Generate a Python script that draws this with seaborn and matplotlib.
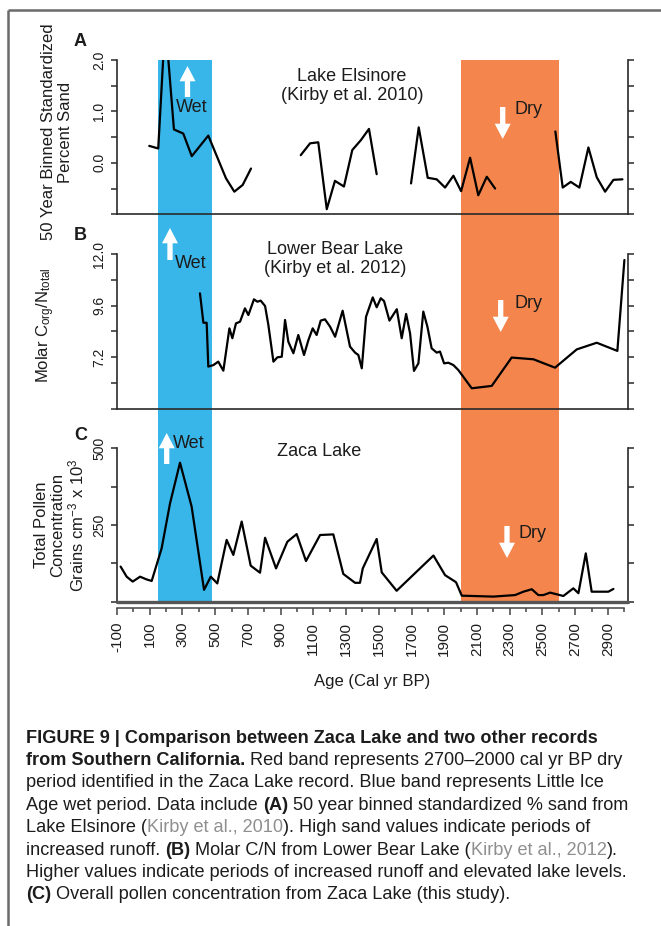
import matplotlib
matplotlib.use("Agg")
import matplotlib.pyplot as plt
from matplotlib.lines import Line2D
from matplotlib.patches import FancyArrowPatch
from matplotlib.ticker import FormatStrFormatter
import pandas as pd
import seaborn as sns

# ---------------------------------------------------------------- data
# (A) Lake Elsinore: 50 year binned standardized percent sand.
#     "run" numbers the continuous stretches of the record (gaps between).
elsinore_age = [97, 152, 195, 248, 305, 357, 458, 566, 617, 668, 719,
                1023, 1080, 1130, 1182, 1232, 1287, 1338, 1390, 1440, 1487,
                1697, 1744, 1799, 1854, 1905, 1956, 2003, 2058, 2108, 2160, 2211,
                2579, 2624, 2673, 2726, 2781, 2832, 2883, 2934, 2989]
elsinore_sand = [0.33, 0.28, 2.75, 0.65, 0.57, 0.13, 0.53, -0.30, -0.56, -0.43, -0.11,
                 0.15, 0.38, 0.40, -0.90, -0.35, -0.46, 0.25, 0.44, 0.66, -0.22,
                 -0.40, 0.69, -0.29, -0.32, -0.48, -0.25, -0.55, 0.10, -0.63, -0.27, -0.50,
                 0.61, -0.48, -0.37, -0.48, 0.30, -0.28, -0.56, -0.33, -0.32]
elsinore_run = [1, 1, 1, 1, 1, 1, 1, 1, 1, 1, 1,
                2, 2, 2, 2, 2, 2, 2, 2, 2, 2,
                3, 3, 3, 3, 3, 3, 3, 3, 3, 3, 3,
                4, 4, 4, 4, 4, 4, 4, 4, 4]

# (B) Lower Bear Lake: molar C/N
bear_age = [407, 428, 448, 458, 489, 519, 550, 587, 605, 627,
            652, 682, 703, 737, 758, 778, 805, 825, 856, 880,
            907, 927, 947, 978, 1008, 1043, 1070, 1096, 1120, 1145,
            1171, 1202, 1233, 1279, 1324, 1355, 1375, 1396, 1422, 1463,
            1487, 1512, 1532, 1565, 1610, 1640, 1667, 1691, 1715, 1742,
            1772, 1797, 1823, 1854, 1874, 1899, 1925, 1956, 1986, 2068,
            2190, 2312, 2445, 2577, 2710, 2832, 2958, 3001]
bear_cn = [10.17, 8.80, 8.80, 6.76, 6.83, 6.99, 6.57, 8.54, 8.08, 8.77,
           8.85, 9.47, 9.16, 9.89, 9.78, 9.83, 9.58, 8.70, 6.99, 7.19,
           7.22, 8.93, 7.92, 7.38, 8.23, 7.30, 8.00, 8.54, 8.23, 8.90,
           8.96, 8.62, 8.15, 9.36, 7.69, 7.41, 7.30, 6.68, 9.08, 9.98,
           9.52, 9.94, 9.81, 8.90, 9.43, 8.08, 9.21, 8.31, 6.56, 6.91,
           9.32, 8.62, 7.61, 7.41, 7.46, 6.91, 6.94, 6.83, 6.60, 5.75,
           5.86, 7.18, 7.10, 6.71, 7.56, 7.87, 7.49, 11.72]

# (C) Zaca Lake: total pollen concentration (grains cm^-3 x 10^3)
zaca_age = [-78, -41, -4, 41, 81, 112, 173, 224, 285, 356,
            432, 473, 513, 570, 611, 662, 717, 774, 805, 872,
            941, 998, 1055, 1141, 1222, 1283, 1355, 1385, 1402, 1487,
            1518, 1609, 1834, 1905, 1972, 2007, 2200, 2333, 2384, 2435,
            2475, 2506, 2547, 2628, 2689, 2720, 2765, 2801, 2903, 2934]
zaca_pollen = [114, 81, 65, 81, 72, 67, 174, 320, 453, 310,
               38, 81, 59, 201, 152, 261, 117, 94, 208, 108,
               195, 220, 132, 217, 219, 90, 61, 61, 108, 204,
               95, 35, 150, 86, 63, 19, 16, 21, 32, 40,
               21, 21, 29, 18, 43, 27, 157, 32, 32, 41]

# climate periods (cal yr BP)
wet_band = (150, 480)
dry_band = (2000, 2600)

# axis ticks
age_ticks = [-100, 100, 300, 500, 700, 900, 1100, 1300, 1500, 1700,
             1900, 2100, 2300, 2500, 2700, 2900]
age_minor = [0, 200, 400, 600, 800, 1000, 1200, 1400, 1600, 1800,
             2000, 2200, 2400, 2600, 2800, 3000]
sand_ticks, sand_minor = [0.0, 1.0, 2.0], [-1.0, -0.5, 0.5, 1.5]
cn_ticks, cn_minor = [7.2, 9.6, 12.0], [4.8, 6.0, 8.4, 10.8]
pollen_ticks, pollen_minor = [250, 500], [0, 125, 375]

# ---------------------------------------------------------------- style
sns.set_style("white")
plt.rcParams["font.family"] = ["Liberation Sans", "DejaVu Sans"]
plt.rcParams["mathtext.fontset"] = "custom"
plt.rcParams["mathtext.rm"] = "Liberation Sans"
plt.rcParams["mathtext.default"] = "regular"
plt.rcParams["axes.unicode_minus"] = False

W, H = 661, 926
INK = "#1c1c1c"
AXC = "#2a2a2a"
BLUE = "#38b6ea"
ORANGE = "#f4864d"
X_LIM = (-100, 3023)

fig = plt.figure(figsize=(W / 100, H / 100), dpi=100)


def box(left, top, right, bottom):
    """Axes rectangle from pixel edges measured from the top-left corner."""
    return [left / W, 1 - bottom / H, (right - left) / W, (bottom - top) / H]


def fx(x):
    return x / W


def fy(y):
    return 1 - y / H


# shared background with the climate bands behind all three records
ax_bg = fig.add_axes(box(117, 60, 628, 602), zorder=0)
ax_bg.set_xlim(*X_LIM)
ax_bg.axvspan(*wet_band, color=BLUE, lw=0)
ax_bg.axvspan(*dry_band, color=ORANGE, lw=0)
ax_bg.axis("off")

axA = fig.add_axes(box(117, 60, 628, 214.3), zorder=2)
axB = fig.add_axes(box(117, 254, 628, 408.7), zorder=2)
axC = fig.add_axes(box(117, 448.3, 628, 601.5), zorder=2)

dfA = pd.DataFrame({"age": elsinore_age, "sand": elsinore_sand, "run": elsinore_run})
dfB = pd.DataFrame({"age": bear_age, "cn": bear_cn})
dfC = pd.DataFrame({"age": zaca_age, "pollen": zaca_pollen})

line_kw = dict(color="black", lw=1.6, legend=False)
sns.lineplot(data=dfA, x="age", y="sand", units="run", estimator=None, ax=axA, **line_kw)
sns.lineplot(data=dfB, x="age", y="cn", estimator=None, ax=axB, **line_kw)
sns.lineplot(data=dfC, x="age", y="pollen", estimator=None, ax=axC, **line_kw)

panels = [
    (axA, (-1.0, 2.0), sand_ticks, sand_minor, "%.1f"),
    (axB, (4.8, 12.0), cn_ticks, cn_minor, "%.1f"),
    (axC, (0, 500), pollen_ticks, pollen_minor, "%d"),
]
for ax, ylim, major, minor, fmt in panels:
    ax.patch.set_alpha(0)
    ax.set_xlim(*X_LIM)
    ax.set_ylim(*ylim)
    ax.set_yticks(major)
    ax.set_yticks(minor, minor=True)
    ax.yaxis.set_major_formatter(FormatStrFormatter(fmt))
    ax.spines["top"].set_visible(False)
    for side in ("left", "right", "bottom"):
        ax.spines[side].set_color(AXC)
        ax.spines[side].set_linewidth(1.2)
    ax.tick_params(axis="y", which="both", direction="out", left=True, right=True,
                   labelright=False, length=4.2, width=1.1, color=AXC,
                   labelsize=10, pad=3.5, labelcolor=INK)
    for t in ax.get_yticklabels():
        t.set_rotation(90)
        t.set_va("center")
        t.set_ha("right")
    ax.set_xlabel("")

for ax in (axA, axB):
    ax.tick_params(axis="x", which="both", bottom=False, labelbottom=False)
    ax.set_xticks([])

# age axis under the pollen record
axC.axhline(0, color="#555555", lw=2.4, clip_on=False, zorder=3)
axC.spines["bottom"].set_position(("outward", 5))
axC.spines["bottom"].set_bounds(-100, 3000)
axC.spines["bottom"].set_color("#444444")
axC.spines["bottom"].set_linewidth(1.1)
axC.set_xticks(age_ticks)
axC.set_xticks(age_minor, minor=True)
axC.tick_params(axis="x", which="major", direction="out", bottom=True, length=5.2,
                width=1.1, color="#444444", labelsize=11, labelrotation=90, pad=4.5,
                labelcolor=INK)
axC.tick_params(axis="x", which="minor", direction="out", bottom=True, length=2.8,
                width=1.1, color="#444444")
axC.set_xlabel("Age (Cal yr BP)", fontsize=12, color=INK)
axC.xaxis.set_label_coords(0.5, -0.472)

# y axis titles
ylabels = [
    (axA, "50 Year Binned Standardized\nPercent Sand", -0.1174, 0.533),
    (axB, "Molar C$_{org}$/N$_{total}$", -0.139, 0.541),
    (axC, "Total Pollen\nConcentration\nGrains cm$^{-3}$ x 10$^{3}$", -0.1115, 0.499),
]
for ax, text, lx, ly in ylabels:
    ax.set_ylabel(text, fontsize=12, color=INK, linespacing=1.1)
    ax.yaxis.set_label_coords(lx, ly)
    ax.yaxis.label.set_va("center")
    ax.yaxis.label.set_ha("center")

# panel letters and record names
for letter, y in (("A", 42), ("B", 235), ("C", 435)):
    fig.text(fx(74), fy(y), letter, fontsize=13, fontweight="bold", color=INK,
             ha="left", va="center")
fig.text(fx(352), fy(86), "Lake Elsinore\n(Kirby et al. 2010)", fontsize=13,
         ha="center", va="center", ma="center", color=INK, linespacing=1.2, zorder=5)
fig.text(fx(335), fy(259), "Lower Bear Lake\n(Kirby et al. 2012)", fontsize=13,
         ha="center", va="center", ma="center", color=INK, linespacing=1.2, zorder=5)
fig.text(fx(319), fy(452), "Zaca Lake", fontsize=13, ha="center", va="center",
         color=INK, zorder=5)


# wet / dry arrows with their words
def arrow(x, y_tail, y_head):
    fig.add_artist(FancyArrowPatch(
        (fx(x), fy(y_tail)), (fx(x), fy(y_head)), transform=fig.transFigure,
        arrowstyle="simple,head_length=1.1,head_width=1.15,tail_width=0.38",
        mutation_scale=10, fc="white", ec="none", shrinkA=0, shrinkB=0, zorder=6))


for (ax_x, tail, head), (tx, ty, word) in [
    ((187.5, 97, 66), (176, 108, "Wet")),
    ((502.7, 107, 139), (515, 110, "Dry")),
    ((170, 260, 228), (175, 264, "Wet")),
    ((500.7, 300, 332), (515, 303, "Dry")),
    ((166.7, 464, 433), (173, 443, "Wet")),
    ((507, 526, 558), (519, 533, "Dry")),
]:
    arrow(ax_x, tail, head)
    fig.text(fx(tx), fy(ty), word, fontsize=13, color=INK, ha="left", va="center",
             zorder=7)

# frame around figure and caption
frame = dict(transform=fig.transFigure, color="#6b6b6b", lw=1.8, solid_capstyle="butt")
fig.add_artist(Line2D([fx(8), fx(8)], [0, fy(10)], **frame))
fig.add_artist(Line2D([fx(8), 1], [fy(10), fy(10)], **frame))

# caption, typeset piece by piece so bold and grey runs sit inline
CITE = "#8f8f8f"
caption = [
    [("FIGURE 9 | Comparison between Zaca Lake and two other records", "bold", INK)],
    [("from Southern California.", "bold", INK),
     (" Red band represents 2700\u20132000 cal yr BP dry", "normal", INK)],
    [("period identified in the Zaca Lake record. Blue band represents Little Ice", "normal", INK)],
    [("Age wet period. Data include ", "normal", INK), ("(A)", "bold", INK),
     (" 50 year binned standardized % sand from", "normal", INK)],
    [("Lake Elsinore (", "normal", INK), ("Kirby et al., 2010", "normal", CITE),
     ("). High sand values indicate periods of", "normal", INK)],
    [("increased runoff. ", "normal", INK), ("(B)", "bold", INK),
     (" Molar C/N from Lower Bear Lake (", "normal", INK),
     ("Kirby et al., 2012", "normal", CITE), (").", "normal", INK)],
    [("Higher values indicate periods of increased runoff and elevated lake levels.", "normal", INK)],
    [("(C)", "bold", INK), (" Overall pollen concentration from Zaca Lake (this study).", "normal", INK)],
]
CAP_FAMILY = ["Liberation Sans Narrow", "Liberation Sans"]
renderer = fig.canvas.get_renderer()


def run_width(s, weight, size):
    probe = fig.text(0, 0, s + "|", fontsize=size, fontweight=weight, family=CAP_FAMILY)
    bar = fig.text(0, 0, "|", fontsize=size, fontweight=weight, family=CAP_FAMILY)
    w = probe.get_window_extent(renderer).width - bar.get_window_extent(renderer).width
    probe.remove()
    bar.remove()
    return w


ref_size = 12.0
cap_size = ref_size * 605 / run_width(caption[6][0][0], "normal", ref_size)
size_px = cap_size * 100 / 72
for i, line in enumerate(caption):
    baseline = 736 + 22.4 * i + 0.36 * size_px
    x = 26.0
    for s, weight, color in line:
        fig.text(fx(x), fy(baseline), s, fontsize=cap_size, fontweight=weight,
                 color=color, family=CAP_FAMILY, ha="left", va="baseline")
        x += run_width(s, weight, cap_size)

fig.savefig("out.png", dpi=100)
